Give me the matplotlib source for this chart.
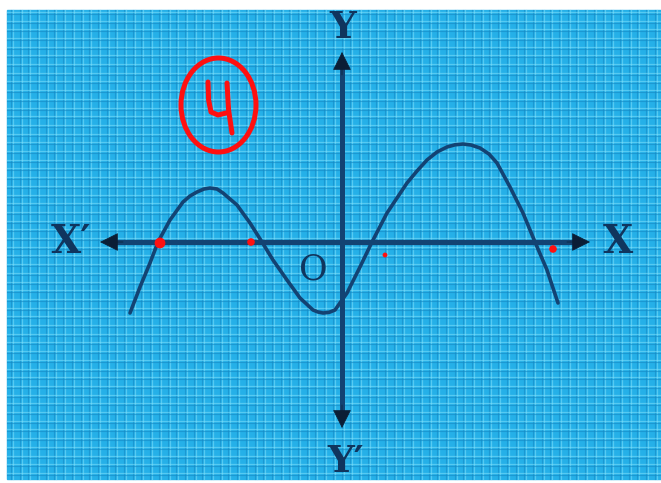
import numpy as np
import matplotlib.pyplot as plt
from matplotlib.patches import Rectangle, Ellipse

# curve (x, y in grid units, origin at O)
curve_x = [-10.55, -10.05, -9.55, -9.15, -8.55, -7.9, -7.55, -7.2, -6.85, -6.55,
           -6.2, -5.9, -5.2, -4.55, -3.95, -3.4, -2.7, -2.05, -1.4, -1.15,
           -0.9, -0.6, -0.3, 0.3, 0.95, 1.55, 2.3, 3.3, 3.8, 4.3,
           4.8, 5.3, 5.7, 6.1, 6.5, 6.95, 7.4, 7.8, 8.45, 9.1,
           9.7, 10.3, 10.85]
curve_y = [-3.55, -2.25, -1.05, 0.0, 1.1, 2.0, 2.3, 2.5, 2.65, 2.7,
           2.65, 2.45, 1.85, 0.95, 0.0, -0.9, -1.9, -2.8, -3.4, -3.5,
           -3.55, -3.52, -3.4, -2.55, -1.25, 0.0, 1.45, 2.95, 3.55, 4.1,
           4.5, 4.75, 4.86, 4.9, 4.85, 4.7, 4.4, 3.95, 2.75, 1.45,
           0.0, -1.4, -3.05]

# red marks at the zeros
mark_x = [-9.05, -4.5, 2.2, 10.6]
mark_y = [-0.05, 0.0, -0.65, -0.35]

# hand written "4" strokes
four_left_x = [-6.65, -6.62, -6.5, -6.15, -5.75]
four_left_y = [8.0, 7.1, 6.5, 6.35, 6.45]
four_right_x = [-5.7, -5.62, -5.45]
four_right_y = [7.95, 6.6, 5.45]

axis_col = '#134373'
head_col = '#0b1e36'
blue = '#25b0e8'
red = '#ff1010'

fig = plt.figure(figsize=(6.61, 4.83), dpi=100)
ax = fig.add_axes([0, 0, 1, 1])
ax.set_xlim(-17.05, 16.0)
ax.set_ylim(-12.05, 12.1)
ax.axis('off')

# blue graph paper
x0, x1, y0, y1 = -16.7, 16.0, -11.85, 11.6
ax.add_patch(Rectangle((x0, y0), x1 - x0, y1 - y0, color=blue, zorder=0))
step = 0.435
for gx in np.arange(x0 + 0.2, x1, step):
    ax.plot([gx, gx], [y0, y1], color='#1589c4', lw=0.8, alpha=0.6, zorder=1)
    ax.plot([gx + 0.1, gx + 0.1], [y0, y1], color='#7fe0fb', lw=0.9, alpha=0.55, zorder=1)
for gy in np.arange(y0 + 0.2, y1, step):
    ax.plot([x0, x1], [gy, gy], color='#1589c4', lw=0.8, alpha=0.6, zorder=1)
    ax.plot([x0, x1], [gy + 0.1, gy + 0.1], color='#7fe0fb', lw=0.9, alpha=0.55, zorder=1)

# axes with arrows
ax.plot([-11.5, 11.9], [0, 0], color=axis_col, lw=3.8, zorder=3)
ax.plot([0.05, 0.05], [8.9, -8.7], color=axis_col, lw=3.6, zorder=3)
head = dict(arrowstyle='-|>', color=head_col, lw=0.5, mutation_scale=30,
            shrinkA=0, shrinkB=0)
ax.annotate('', xy=(-12.05, 0), xytext=(-10.9, 0), arrowprops=head, zorder=3)
ax.annotate('', xy=(12.45, 0), xytext=(11.3, 0), arrowprops=head, zorder=3)
ax.annotate('', xy=(0.05, 9.5), xytext=(0.05, 8.35), arrowprops=head, zorder=3)
ax.annotate('', xy=(0.05, -9.3), xytext=(0.05, -8.15), arrowprops=head, zorder=3)

lab = dict(family='DejaVu Serif', fontweight='bold', color='#10355e',
           ha='center', va='center', zorder=4)
ax.text(0.1, 10.75, 'Y', fontsize=27, **lab)
ax.text(0.25, -10.95, 'Y\u2032', fontsize=27, **lab)
ax.text(-13.5, 0.0, 'X\u2032', fontsize=28, **lab)
ax.text(13.85, 0.0, 'X', fontsize=28, **lab)
ax.text(-1.4, -1.35, 'O', fontsize=25, family='DejaVu Serif', color='#10355e',
        ha='center', va='center', zorder=4)

# the curve
ax.plot(curve_x, curve_y, color=axis_col, lw=2.6, solid_joinstyle='round',
        solid_capstyle='round', zorder=4)

# red annotations
ax.add_patch(Ellipse((-6.125, 6.85), 3.75, 4.7, fill=False, ec=red, lw=3.6, zorder=5))
ax.plot(four_left_x, four_left_y, color=red, lw=3.6, solid_capstyle='round', zorder=5)
ax.plot(four_right_x, four_right_y, color=red, lw=3.6, solid_capstyle='round', zorder=5)
ax.scatter(mark_x, mark_y, color=red, s=[60, 30, 12, 30], zorder=6, edgecolors='none')

fig.savefig('out.png', dpi=100)
